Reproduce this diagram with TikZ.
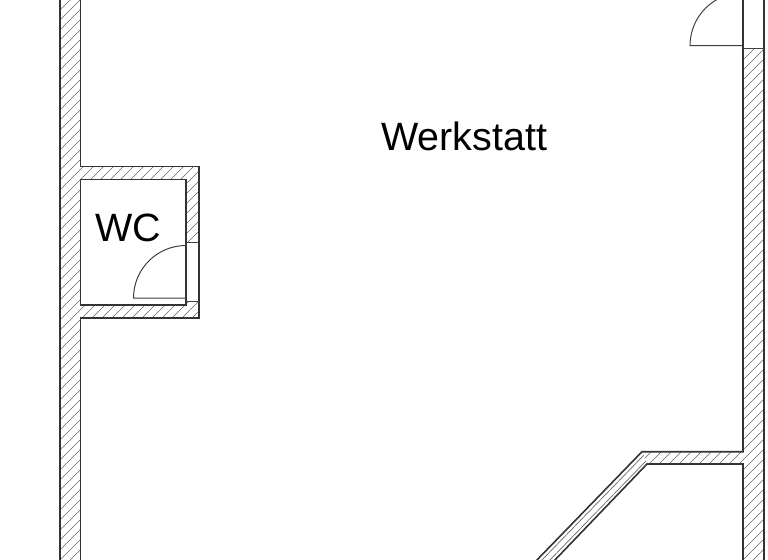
\documentclass[tikz,border=0pt]{standalone}
\usepackage{fontspec}
\setmainfont{Liberation Sans}
\tikzset{
  x=0.75pt,y=-0.75pt,
  wallline/.style={draw=black!80,line width=1.2pt,line cap=butt},
  thinline/.style={draw=black!75,line width=0.75pt},
  hatchline/.style={draw=black!60,line width=0.5pt},
  lbl/.style={font=\fontsize{29.6}{32}\selectfont,text=black,inner sep=0pt,anchor=base}
}
\begin{document}
\begin{tikzpicture}
\useasboundingbox (0,0) rectangle (768,560);
\clip (0,0) rectangle (768,560);
% hatched fills
\begin{scope}
\clip (60,-2) -- (80.5,-2) -- (80.5,166.5) -- (199,166.5) -- (199,318) -- (80.5,318) -- (80.5,562) -- (60,562) -- cycle
  (80.5,179.5) -- (80.5,305) -- (186,305) -- (186,179.5) -- cycle;
\foreach \k in {0,...,90} {\draw[hatchline] ({\k*10},0) -- ({\k*10-600},600);}
\end{scope}
\begin{scope}
\clip (743,48.5) -- (764,48.5) -- (764,562) -- (743,562) -- (743,464) -- (647,464) -- (642,451.7) -- (743,451.7) -- cycle;
\foreach \k in {60,...,150} {\draw[hatchline] ({\k*10+3},0) -- ({\k*10-597},600);}
\end{scope}
% blank opening in WC wall
\fill[white] (187,242.5) rectangle (198.5,301);
% left wall and WC
\draw[wallline] (60,-2) -- (60,562);
\draw[wallline] (80.5,-2) -- (80.5,166.5) -- (199,166.5) -- (199,318) -- (80.5,318) -- (80.5,562);
\draw[wallline] (80.5,179.5) rectangle (186,305);
\draw[thinline] (186,242.5) -- (199,242.5) (186,301) -- (199,301);
% WC door
\draw[thinline] (186,298) -- (133.5,298) arc[start angle=180,end angle=270,radius=52.5];
% right wall
\draw[wallline] (743,-2) -- (743,451.7) -- (642,451.7) -- (535,562);
\draw[wallline] (764,-2) -- (764,562);
\draw[wallline] (743,562) -- (743,464) -- (647,464) -- (553,562);
\draw[thinline] (743,48.5) -- (764,48.5);
% upper door
\draw[thinline] (743,45.7) -- (690,45.7) arc[start angle=180,end angle=270,radius=53];
% window lines in diagonal wall
\draw[hatchline] (540,562) -- (644,455);
\draw[hatchline] (548,562) -- (646,461);
\node[lbl] (werkstatt) at (464,151) {Werkstatt};
\node[lbl] (wc) at (128,241.5) {WC};
\end{tikzpicture}
\end{document}
